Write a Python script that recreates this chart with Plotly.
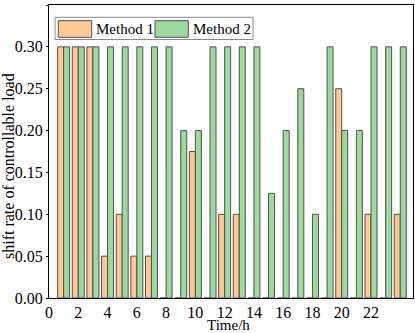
import plotly.graph_objects as go

hours = list(range(1, 25))
method1 = [0.30, 0.30, 0.30, 0.05, 0.10, 0.05, 0.05, 0, 0, 0.175, 0, 0.10,
           0.10, 0, 0, 0, 0, 0, 0, 0.25, 0, 0.10, 0, 0.10]
method2 = [0.30, 0.30, 0.30, 0.30, 0.30, 0.30, 0.30, 0.30, 0.20, 0.20, 0.30, 0.30,
           0.30, 0.30, 0.125, 0.20, 0.25, 0.10, 0.30, 0.20, 0.20, 0.30, 0.30, 0.30]
xtick_vals = list(range(0, 25, 2))
xtick_text = [str(v) for v in range(0, 23, 2)] + [""]
series_names = ["Method 1", "Method 2"]
colors = ["#FDC894", "#9ED89E"]
x_title = "Time/h"
y_title = "shift rate of controllable load"

FONT = "Liberation Serif"
edge = "#505050"

fig = go.Figure()
for name, vals, col in zip(series_names, [method1, method2], colors):
    fig.add_trace(go.Bar(x=hours, y=vals, name=name, marker=dict(color=col, line=dict(color=edge, width=1)),
                         showlegend=False, hoverinfo="skip"))

xr = [0, 24.87]
yr = [0, 0.35]
noax = dict(showgrid=False, zeroline=False, showline=False, automargin=False, showticklabels=False)

fig.update_layout(
    width=415, height=333,
    margin=dict(l=49, r=2, t=5, b=35, autoexpand=False),
    paper_bgcolor="white", plot_bgcolor="white",
    barmode="group", bargap=0.18, bargroupgap=0,
    font=dict(family=FONT, size=16, color="black"),
    xaxis=dict(range=xr, tickvals=xtick_vals, ticktext=xtick_text, ticks="",
               showline=True, linecolor="black", linewidth=1, mirror=True,
               showgrid=False, zeroline=False, automargin=False,
               tickfont=dict(size=16)),
    xaxis2=dict(range=xr, overlaying="x", side="top", anchor="y", tickvals=xtick_vals,
                ticks="inside", ticklen=5, tickcolor="black",
                minor=dict(dtick=1, tick0=0, ticks="inside", ticklen=3, tickcolor="black"), **noax),
    yaxis=dict(range=yr, dtick=0.05, tick0=0, tickformat=".2f", ticks="outside", ticklen=2,
               tickcolor="black", showline=True, linecolor="black", linewidth=1, mirror=True,
               showgrid=False, zeroline=False, automargin=False,
               tickfont=dict(size=16)),
    yaxis2=dict(range=yr, overlaying="y", side="right", anchor="x", dtick=0.05, tick0=0,
                ticks="inside", ticklen=5, tickcolor="black",
                minor=dict(dtick=0.025, tick0=0, ticks="inside", ticklen=3, tickcolor="black"), **noax),
    yaxis3=dict(range=yr, overlaying="y", side="left", anchor="x", dtick=0.05, tick0=0,
                ticks="outside", ticklen=5, tickcolor="black",
                minor=dict(dtick=0.025, tick0=0, ticks="outside", ticklen=3, tickcolor="black"), **noax),
)

# pixel -> paper conversion
L, R, T, B = 49, 413, 5, 298
def px(x):
    return (x - L) / (R - L)
def py(y):
    return (B - y) / (B - T)

# axis titles
fig.add_annotation(xref="paper", yref="paper", x=px(228), y=py(325), text=x_title, showarrow=False,
                   xanchor="center", yanchor="middle", font=dict(size=15, family=FONT, color="black"))
fig.add_annotation(xref="paper", yref="paper", x=px(8), y=py(166), text=y_title, showarrow=False,
                   textangle=-90, xanchor="center", yanchor="middle",
                   font=dict(size=16, family=FONT, color="black"))

# legend
fig.add_shape(type="rect", xref="paper", yref="paper", x0=px(55), x1=px(253), y0=py(39.5), y1=py(17.3),
              line=dict(color="#8a8a8a", width=1), fillcolor="white", layer="above")
sw = [(58.3, 91.7), (155, 188.3)]
tx = [94, 190.7]
for (a, b), t, name, col in zip(sw, tx, series_names, colors):
    fig.add_shape(type="rect", xref="paper", yref="paper", x0=px(a), x1=px(b), y0=py(37.3), y1=py(20.7),
                  line=dict(color=edge, width=1), fillcolor=col, layer="above")
    fig.add_annotation(xref="paper", yref="paper", x=px(t), y=py(29), text=name, showarrow=False,
                       xanchor="left", yanchor="middle", font=dict(size=15, family=FONT, color="black"))

fig.write_html("out.html", config={"displayModeBar": False},
               post_script="document.body.style.margin='0';document.body.style.padding='0';")
